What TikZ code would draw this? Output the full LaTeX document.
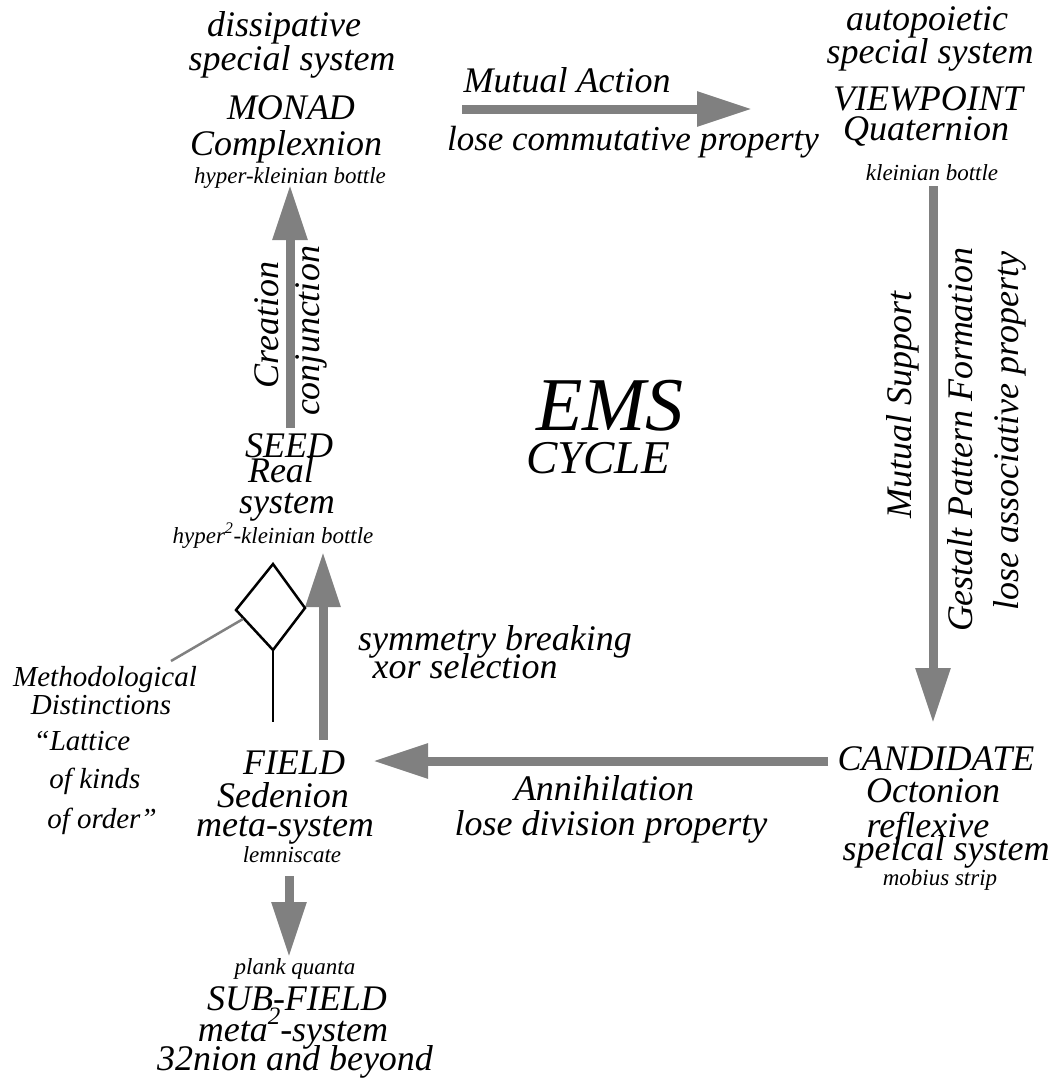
\documentclass[tikz,border=0pt]{standalone}
\usepackage{fontspec}
\setmainfont{Liberation Serif}
\usetikzlibrary{arrows.meta}
\definecolor{agray}{HTML}{808080}
\begin{document}
\begin{tikzpicture}[x=1pt,y=-1pt,
  lab/.style={anchor=base, inner sep=0pt, font=\itshape\fontsize{36}{40}\selectfont},
  labs/.style={lab, font=\itshape\fontsize{23}{26}\selectfont},
  labm/.style={lab, font=\itshape\fontsize{29}{32}\selectfont},
  bigarrow/.style={draw=agray, line width=9pt, -{Triangle[length=55pt,width=33pt]}},
  thinline/.style={draw=black, line width=2.5pt, line join=miter},
  leader/.style={draw=agray, line width=2.5pt}]
\useasboundingbox (0,0) rectangle (1056,1080);
\fill[white] (0,0) rectangle (1056,1080);

% ---- MONAD (top left)
\node[lab] (m1) at (284,36) {dissipative};
\node[lab] (m2) at (292,70) {special system};
\node[lab] (m3) at (291,119) {MONAD};
\node[lab] (m4) at (286,155) {Complexnion};
\node[labs] (m5) at (290,183) {hyper-kleinian bottle};

% ---- VIEWPOINT (top right)
\node[lab] (v1) at (927,30) {autopoietic};
\node[lab] (v2) at (930,63) {special system};
\node[lab] (v3) at (928,110) {VIEWPOINT};
\node[lab] (v4) at (926,140) {Quaternion};
\node[labs] (v5) at (932,180) {kleinian bottle};

% ---- Mutual Action arrow
\coordinate (maS) at (462,109);
\coordinate (maE) at (752,109);
\draw[bigarrow] (maS) -- (maE);
\node[lab] (ma1) at (567,92) {Mutual Action};
\node[lab, font=\itshape\fontsize{35}{40}\selectfont] (ma2) at (633,150) {lose commutative property};

% ---- Mutual Support arrow (right)
\coordinate (msS) at (933,186);
\coordinate (msE) at (933,723);
\draw[bigarrow] (msS) -- (msE);
\node[lab, rotate=90] (ms1) at (911,405) {Mutual Support};
\node[lab, rotate=90] (ms2) at (972,440) {Gestalt Pattern Formation};
\node[lab, rotate=90] (ms3) at (1018,431) {lose associative property};

% ---- EMS CYCLE
\node[lab, font=\itshape\fontsize{76}{80}\selectfont] (ems) at (610,430) {EMS};
\node[lab, font=\itshape\fontsize{47}{50}\selectfont] (cyc) at (598,473) {CYCLE};

% ---- CANDIDATE (bottom right)
\node[lab] (c1) at (936,770) {CANDIDATE};
\node[lab] (c2) at (933,802) {Octonion};
\node[lab] (c3) at (928,837) {reflexive};
\node[lab] (c4) at (946,860) {speical system};
\node[labs] (c5) at (940,885) {mobius strip};

% ---- Annihilation arrow
\coordinate (anS) at (828,761);
\coordinate (anE) at (373,761);
\draw[bigarrow] (anS) -- (anE);
\node[lab] (an1) at (604,800) {Annihilation};
\node[lab] (an2) at (611,835) {lose division property};

% ---- FIELD
\node[lab] (f1) at (294,774) {FIELD};
\node[lab] (f2) at (283,807) {Sedenion};
\node[lab] (f3) at (285,836) {meta-system};
\node[labs] (f4) at (292,862) {lemniscate};

% ---- down arrow to SUB-FIELD
\coordinate (dS) at (289,876);
\coordinate (dE) at (289,957);
\draw[bigarrow] (dS) -- (dE);

% ---- SUB-FIELD
\node[labs] (s1) at (295,974) {plank quanta};
\node[lab] (s2) at (297,1010) {SUB-FIELD};
\node[lab] (s3) at (293,1041) {meta\raisebox{17pt}{\fontsize{25}{26}\selectfont 2}-system};
\node[lab] (s4) at (295,1070) {32nion and beyond};

% ---- symmetry breaking arrow
\coordinate (sbS) at (323,740);
\coordinate (sbE) at (323,552);
\draw[bigarrow] (sbS) -- (sbE);
\node[lab] (sb1) at (495,650) {symmetry breaking};
\node[lab] (sb2) at (465,678) {xor selection};

% ---- SEED
\node[lab] (e1) at (289,457) {SEED};
\node[lab] (e2) at (281,482) {Real};
\node[lab] (e3) at (287,513) {system};
\node[labs] (e4) at (273,543) {hyper\textsuperscript{2}-kleinian bottle};

% ---- Creation arrow
\coordinate (crS) at (290,428);
\coordinate (crE) at (290,185);
\draw[bigarrow] (crS) -- (crE);
\node[lab, rotate=90] (cr1) at (278,325) {Creation};
\node[lab, rotate=90] (cr2) at (319,331) {conjunction};

% ---- diamond (methodological distinctions)
\coordinate (dT) at (273,564);
\coordinate (dR) at (305,608);
\coordinate (dB) at (273,650);
\coordinate (dL) at (236,610);
\coordinate (dStem) at (273,722);
\draw[thinline] (dT) -- (dR) -- (dB) -- (dL) -- cycle;
\draw[black, line width=2pt] (dB) -- (dStem);
\coordinate (ldA) at (243,619);
\coordinate (ldB) at (171,661);
\draw[leader] (ldA) -- (ldB);

\node[labm] (md1) at (105,686) {Methodological};
\node[labm] (md2) at (101,714) {Distinctions};
\node[labm] (md3) at (82,750) {“Lattice};
\node[labm] (md4) at (95,788) {of kinds};
\node[labm] (md5) at (102,828) {of order”};
\end{tikzpicture}
\end{document}
